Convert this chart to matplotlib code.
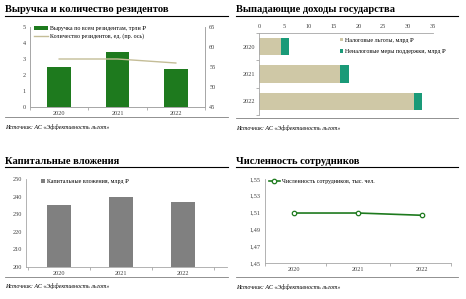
import matplotlib
matplotlib.use("Agg")
import matplotlib.pyplot as plt
from matplotlib.lines import Line2D

W, H = 466, 299
plt.rcParams['font.family'] = ['Liberation Serif', 'DejaVu Serif']

years = ["2020", "2021", "2022"]
revenue = [2.5, 3.45, 2.4]
residents = [57, 57, 56]
tax_benefits = [4.5, 16.2, 31.2]
nontax_support = [1.5, 2.0, 1.5]
capex = [235.5, 239.5, 237.0]
staff = [1.5095, 1.5095, 1.5068]

titles = ["Выручка и количество резидентов", "Выпадающие доходы государства",
          "Капитальные вложения", "Численность сотрудников"]
source = "Источник: АС «Эффективность льгот»"

fig = plt.figure(figsize=(W / 100, H / 100), dpi=100)

def ax_px(x0, y0, x1, y1):
    return fig.add_axes([x0 / W, 1 - y1 / H, (x1 - x0) / W, (y1 - y0) / H])

def header(x, y, xend, text):
    fig.text(x / W, 1 - y / H, text, fontsize=7.6, fontweight='bold', va='center', ha='left')
    fig.add_artist(Line2D([x / W, xend / W], [1 - (y + 6) / H] * 2, color='black', lw=0.8))

def footer(x, y, xend, yline):
    fig.add_artist(Line2D([x / W, xend / W], [1 - yline / H] * 2, color='#7f7f7f', lw=0.6))
    fig.text(x / W, 1 - y / H, source, fontsize=4.3, style='italic', va='center', ha='left')

TICK = 4.5
SP = '#a6a6a6'
TC = '#404040'

def style(a, hide=('top', 'right')):
    a.tick_params(labelsize=TICK, length=0, pad=3, labelcolor=TC)
    for k, s in a.spines.items():
        s.set_color(SP); s.set_linewidth(0.6)
        if k in hide:
            s.set_visible(False)

def boundary_ticks(a, axis='x'):
    if axis == 'x':
        a.set_xticks([-0.5, 0.5, 1.5, 2.5], minor=True)
        a.tick_params(axis='x', which='minor', length=2, color=SP, width=0.6)
    else:
        a.set_yticks([-0.5, 0.5, 1.5, 2.5], minor=True)
        a.tick_params(axis='y', which='minor', length=2, color=SP, width=0.6)

x = list(range(len(years)))

# Panel 1
header(5, 10, 228, titles[0])
ax1 = ax_px(30, 27, 205, 107)
ax1.bar(x, revenue, width=0.41, color='#1e7a1e', label='Выручка по всем резидентам, трлн ₽')
ax1.set_ylim(0, 5)
ax1.set_xlim(-0.5, 2.5)
ax1.set_yticks(range(0, 6))
ax1.set_xticks(x)
ax1.set_xticklabels(years)
ax2 = ax1.twinx()
ax2.plot(x, residents, color='#c4bd97', lw=1.0, label='Количество резидентов, ед. (пр. ось)')
ax2.set_ylim(45, 65)
ax2.set_yticks(range(45, 66, 5))
style(ax1, hide=('top',))
style(ax2, hide=('top',))
boundary_ticks(ax1)
h1, l1 = ax1.get_legend_handles_labels()
h2, l2 = ax2.get_legend_handles_labels()
ax1.legend(h1 + h2, l1 + l2, loc='upper left', fontsize=4.3, frameon=False,
           handlelength=2.4, bbox_to_anchor=(-0.01, 1.08), labelspacing=0.35, handletextpad=0.4)
footer(5, 127, 228, 117)

# Panel 2
header(236, 10, 458, titles[1])
ax3 = ax_px(259, 33, 433, 115)
ax3.barh(x, tax_benefits, height=0.63, color='#cfc8a6', label='Налоговые льготы, млрд ₽')
ax3.barh(x, nontax_support, left=tax_benefits, height=0.63, color='#1a9a78',
         label='Неналоговые меры поддержки, млрд ₽')
ax3.set_ylim(2.5, -0.5)
ax3.set_xlim(0, 35)
ax3.set_xticks(range(0, 36, 5))
ax3.set_yticks(x)
ax3.set_yticklabels(years)
ax3.xaxis.tick_top()
style(ax3, hide=('right', 'bottom'))
boundary_ticks(ax3, 'y')
ax3.legend(loc='upper right', fontsize=4.3, frameon=False, handlelength=0.6, handleheight=0.6,
           bbox_to_anchor=(1.105, 1.01), labelspacing=1.1, handletextpad=0.3)
footer(236, 128, 458, 118)

# Panel 3
header(5, 161, 228, titles[2])
ax4 = ax_px(26, 179, 227, 267)
ax4.bar(x, capex, width=0.39, color='#808080', label='Капитальные вложения, млрд ₽')
ax4.set_ylim(200, 250)
ax4.set_xlim(-0.53, 2.71)
ax4.set_yticks(range(200, 251, 10))
ax4.set_xticks(x)
ax4.set_xticklabels(years)
style(ax4)
boundary_ticks(ax4)
ax4.legend(loc='upper left', fontsize=4.3, frameon=False, handlelength=0.6, handleheight=0.6,
           bbox_to_anchor=(0.05, 1.06), handletextpad=0.3)
footer(5, 286, 228, 277)

# Panel 4
header(236, 161, 458, titles[3])
ax5 = ax_px(265, 179, 451, 263)
ax5.plot(x, staff, color='#1e7a1e', lw=1.2, marker='o', markersize=3.2,
         markerfacecolor='white', markeredgecolor='#1e7a1e', markeredgewidth=0.9,
         label='Численность сотрудников, тыс. чел.')
ax5.set_ylim(1.45, 1.55)
ax5.set_xlim(-0.45, 2.45)
ax5.set_yticks([1.45, 1.47, 1.49, 1.51, 1.53, 1.55])
ax5.set_yticklabels(['1,45', '1,47', '1,49', '1,51', '1,53', '1,55'])
ax5.set_xticks(x)
ax5.set_xticklabels(years)
style(ax5)
ax5.set_xticks([-0.45, 0.5, 1.5, 2.45], minor=True)
ax5.tick_params(axis='x', which='minor', length=2, color=SP, width=0.6)
ax5.legend(loc='upper left', fontsize=4.3, frameon=False, handlelength=2.0,
           bbox_to_anchor=(-0.01, 1.07), handletextpad=0.2)
footer(236, 287, 458, 277)

fig.savefig('out.png', dpi=100)
